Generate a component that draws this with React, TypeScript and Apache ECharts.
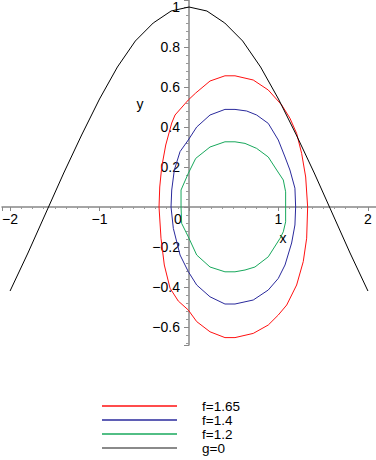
import React, { useEffect, useRef } from 'react';
import * as echarts from 'echarts';

const seriesNames = ['f=1.65', 'f=1.4', 'f=1.2', 'g=0'];
const seriesColors = ['#ff1010', '#2a2a9c', '#18a85c', '#000000'];

const f165: [number, number][] = [
  [-0.335, 0.0], [-0.327, 0.1], [-0.305, 0.2], [-0.26, 0.31], [-0.193, 0.42], [-0.156, 0.46],
  [-0.008, 0.535], [0.075, 0.57], [0.235, 0.63], [0.402, 0.656], [0.514, 0.656], [0.718, 0.635],
  [0.886, 0.585], [1.036, 0.51], [1.128, 0.444], [1.203, 0.368], [1.259, 0.268], [1.304, 0.15],
  [1.326, 0.0], [1.315, -0.156], [1.277, -0.273], [1.203, -0.39], [1.092, -0.49], [0.998, -0.54],
  [0.886, -0.59], [0.718, -0.632], [0.514, -0.653], [0.402, -0.653], [0.235, -0.624], [0.086, -0.573],
  [-0.008, -0.515], [-0.12, -0.47], [-0.212, -0.406], [-0.276, -0.29], [-0.313, -0.156], [-0.335, 0.0],
];

const f14: [number, number][] = [
  [-0.201, 0.0], [-0.193, 0.085], [-0.164, 0.185], [-0.1, 0.277], [-0.008, 0.335], [0.086, 0.4],
  [0.235, 0.46], [0.402, 0.488], [0.514, 0.488], [0.645, 0.48], [0.756, 0.46], [0.886, 0.418],
  [0.998, 0.335], [1.073, 0.25], [1.128, 0.185], [1.184, 0.094], [1.192, 0.0], [1.184, -0.09],
  [1.147, -0.18], [1.073, -0.29], [0.998, -0.357], [0.886, -0.415], [0.718, -0.465], [0.514, -0.485],
  [0.402, -0.485], [0.235, -0.449], [0.086, -0.39], [-0.008, -0.323], [-0.1, -0.24], [-0.175, -0.107],
  [-0.201, 0.0],
];

const f12: [number, number][] = [
  [-0.089, 0.0], [-0.089, 0.085], [-0.008, 0.168], [0.075, 0.243], [0.235, 0.3], [0.402, 0.326],
  [0.514, 0.326], [0.626, 0.318], [0.756, 0.293], [0.886, 0.25], [0.98, 0.185], [1.054, 0.135],
  [1.08, 0.076], [1.08, 0.0], [1.08, -0.074], [1.054, -0.124], [1.017, -0.157], [0.886, -0.249],
  [0.737, -0.3], [0.626, -0.315], [0.514, -0.324], [0.402, -0.324], [0.235, -0.3], [0.086, -0.24],
  [-0.008, -0.149], [-0.082, -0.082], [-0.089, 0.0],
];

const gX = [-2, -1.8, -1.6, -1.4, -1.2, -1, -0.8, -0.6, -0.4, -0.2, 0, 0.2, 0.4, 0.6, 0.8, 1, 1.2, 1.4, 1.6, 1.8, 2];
const gY = [-0.42, -0.23, -0.03, 0.17, 0.36, 0.54, 0.7, 0.83, 0.92, 0.98, 1.0, 0.98, 0.92, 0.83, 0.7, 0.54, 0.36, 0.17, -0.03, -0.23, -0.42];

const FONT = '"Liberation Sans", Arial, sans-serif';

const fmtNum = (v: number) => {
  const s = String(Math.round(v * 1000) / 1000);
  return s.replace('-', '\u2212');
};

const X_MIN = -2.09, X_MAX = 2.09, Y_MIN = -0.69, Y_MAX = 1.035;
const G_LEFT = 2, G_TOP = 0, G_W = 374, G_H = 345;

export default function App() {
  const ref = useRef<HTMLDivElement>(null);
  useEffect(() => {
    document.body.style.margin = '0';
    const chart = echarts.init(ref.current!, null, { renderer: 'svg' });
    const g0 = gX.map((x, i) => [x, gY[i]]);
    const datas = [f165, f14, f12, g0];
    // place the axes through the origin
    const xOff = -((0 - Y_MIN) / (Y_MAX - Y_MIN)) * G_H;
    const yOff = -((0 - X_MIN) / (X_MAX - X_MIN)) * G_W;
    chart.setOption({
      animation: false,
      textStyle: { fontFamily: FONT },
      grid: { left: G_LEFT, top: G_TOP, width: G_W, height: G_H, containLabel: false, outerBoundsMode: 'none' },
      xAxis: {
        type: 'value',
        min: X_MIN,
        max: X_MAX,
        position: 'bottom',
        offset: xOff,
        splitLine: { show: false },
        axisLine: { onZero: false, lineStyle: { color: '#888', width: 1.5 } },
        axisTick: { show: true, length: 4, lineStyle: { color: '#888' } },
        minorTick: { show: true, splitNumber: 8, length: 2, lineStyle: { color: '#999' } },
        axisLabel: {
          margin: 5,
          fontSize: 14,
          color: '#000',
          fontFamily: FONT,
          formatter: (v: number) => {
            if (Math.abs(v - Math.round(v)) > 1e-6) return '';
            if (Math.abs(v) < 1e-9) return '{z|0}';
            return fmtNum(v);
          },
          rich: { z: { fontSize: 14, fontFamily: FONT, color: '#000', padding: [0, 22, 0, 0] } },
        },
      },
      yAxis: {
        type: 'value',
        min: Y_MIN,
        max: Y_MAX,
        splitNumber: 8,
        position: 'left',
        offset: yOff,
        splitLine: { show: false },
        axisLine: { onZero: false, lineStyle: { color: '#888', width: 1.5 } },
        axisTick: { show: true, length: 5, lineStyle: { color: '#888' } },
        minorTick: { show: true, splitNumber: 5, length: 3, lineStyle: { color: '#999' } },
        axisLabel: {
          margin: 9,
          fontSize: 14,
          color: '#000',
          fontFamily: FONT,
          formatter: (v: number) => {
            const r = Math.round(v * 5) / 5;
            if (Math.abs(v - r) > 1e-6) return '';
            if (Math.abs(v) < 1e-9) return '';
            return fmtNum(v);
          },
        },
      },
      legend: {
        orient: 'vertical',
        left: 102,
        top: 399,
        padding: 0,
        itemWidth: 75,
        itemHeight: 14,
        itemGap: 0,
        selectedMode: false,
        textStyle: { fontSize: 13.5, lineHeight: 13, color: '#000', fontFamily: FONT, padding: [0, 0, 0, 20] },
        data: seriesNames.map((n, i) =>
          i === 3
            ? { name: n, icon: 'path://M0 0H75V2.2H0Z', itemStyle: { color: '#8a8a8a', borderColor: '#8a8a8a', borderWidth: 0 } }
            : { name: n, icon: 'path://M0 0H75V1.3H0Z' }
        ),
      },
      graphic: [
        { type: 'text', x: 283, y: 238, style: { text: 'x', fontSize: 14, fontFamily: FONT, fill: '#000', align: 'center', verticalAlign: 'middle' } },
        { type: 'text', x: 140, y: 104, style: { text: 'y', fontSize: 14, fontFamily: FONT, fill: '#000', align: 'center', verticalAlign: 'middle' } },
      ],
      series: seriesNames.map((n, i) => ({
        name: n,
        type: 'line',
        data: datas[i],
        symbol: 'none',
        smooth: false,
        color: seriesColors[i],
        lineStyle: { color: seriesColors[i], width: 1 },
      })),
    });
    return () => chart.dispose();
  }, []);
  return <div ref={ref} style={{ width: 376, height: 460 }} />;
}
